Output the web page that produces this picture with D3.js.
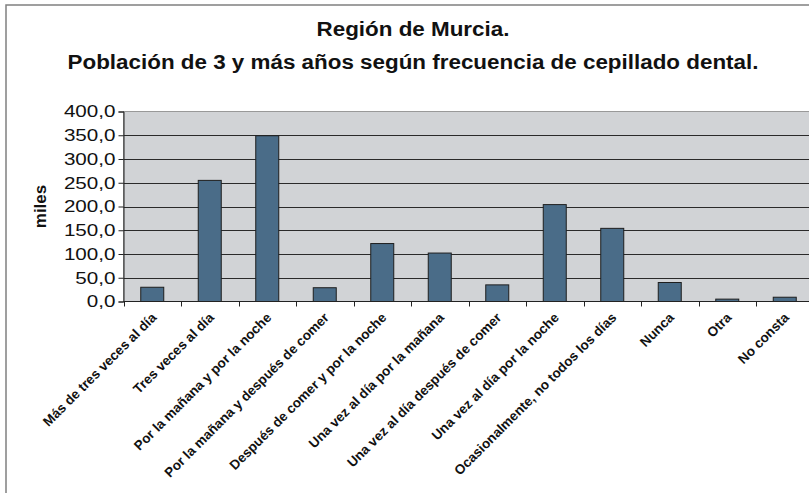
<!DOCTYPE html>
<html>
<head>
<meta charset="utf-8">
<script src="https://cdn.jsdelivr.net/npm/d3@7"></script>
<style>
  html, body { margin: 0; padding: 0; background: #fff; }
  svg { display: block; }
  text { font-family: "Liberation Sans", Arial, sans-serif; }
</style>
</head>
<body>
<svg id="chart" width="809" height="493"></svg>
<script>
const titleLines = ["Región de Murcia.", "Población de 3 y más años según frecuencia de cepillado dental."];
const yLabel = "miles";
const categories = [
  "Más de tres veces al día",
  "Tres veces al día",
  "Por la mañana y por la noche",
  "Por la mañana y después de comer",
  "Después de comer y por la noche",
  "Una vez al día por la mañana",
  "Una vez al día después de comer",
  "Una vez al día por la noche",
  "Ocasionalmente, no todos los días",
  "Nunca",
  "Otra",
  "No consta"
];
const values = [30, 255, 349, 29, 122, 102, 35, 204, 154, 40, 5, 9];
const yTicks = [0, 50, 100, 150, 200, 250, 300, 350, 400];

const svg = d3.select("#chart");
const pLeft = 123.5, pRight = 813.5, pTop = 111.5, pBottom = 301.5;

// stretch text horizontally (reference glyphs are wider than tall)
function stretch(sel, factor) {
  sel.each(function () {
    const w = this.getComputedTextLength();
    d3.select(this).attr("textLength", w * factor).attr("lengthAdjust", "spacingAndGlyphs");
  });
}

// outer frame
svg.append("rect")
  .attr("x", 6).attr("y", 5)
  .attr("width", 900).attr("height", 700)
  .attr("fill", "#fff").attr("stroke", "#808080").attr("stroke-width", 1.5);

const x = d3.scaleBand().domain(categories).range([pLeft, pRight])
  .paddingInner(0.6).paddingOuter(0.3);
const y = d3.scaleLinear().domain([0, 400]).range([pBottom, pTop]);

// plot background
svg.append("rect")
  .attr("x", pLeft).attr("y", pTop)
  .attr("width", pRight - pLeft).attr("height", pBottom - pTop)
  .attr("fill", "#d1d3d6").attr("stroke", "#999").attr("stroke-width", 1);

// gridlines
svg.append("g").selectAll("line")
  .data(yTicks.filter(d => d > 0 && d < 400))
  .join("line")
  .attr("x1", pLeft).attr("x2", pRight)
  .attr("y1", d => Math.round(y(d)) + 0.5).attr("y2", d => Math.round(y(d)) + 0.5)
  .attr("stroke", "#2a2a2a").attr("stroke-width", 1);

// bars
svg.append("g").selectAll("rect")
  .data(values)
  .join("rect")
  .attr("x", (d, i) => x(categories[i]))
  .attr("y", d => y(d))
  .attr("width", x.bandwidth())
  .attr("height", d => pBottom - y(d))
  .attr("fill", "#4a6c88")
  .attr("stroke", "#1e1e1e").attr("stroke-width", 1);

// y axis
const yAxis = d3.axisLeft(y).tickValues(yTicks).tickSize(5).tickPadding(3)
  .tickFormat(d => d3.format(".1f")(d).replace(".", ","));
const gy = svg.append("g").attr("transform", `translate(${pLeft},0)`).call(yAxis);
gy.select(".domain").attr("stroke", "#222");
gy.selectAll(".tick line").attr("stroke", "#222");
gy.selectAll(".tick text").attr("font-size", 16.5).attr("fill", "#111")
  .style("font-family", "'Liberation Sans', Arial, sans-serif")
  .call(stretch, 1.25);

// x axis baseline and ticks at category boundaries
const step = x.step();
svg.append("line").attr("x1", pLeft).attr("x2", pRight)
  .attr("y1", pBottom).attr("y2", pBottom).attr("stroke", "#222");
svg.append("g").selectAll("line")
  .data(categories)
  .join("line")
  .attr("x1", d => Math.round(x(d) - step * 0.3) + 0.5)
  .attr("x2", d => Math.round(x(d) - step * 0.3) + 0.5)
  .attr("y1", pBottom).attr("y2", pBottom + 5)
  .attr("stroke", "#222");

// x labels
svg.append("g").selectAll("text")
  .data(categories)
  .join("text")
  .attr("transform", d => `translate(${x(d) + x.bandwidth() / 2 + 5},${pBottom + 17}) rotate(-45)`)
  .attr("text-anchor", "end")
  .attr("font-size", 13.5).attr("font-weight", "bold").attr("fill", "#111")
  .text(d => d);

// y label
svg.append("text")
  .attr("transform", `translate(46,${(pTop + pBottom) / 2}) rotate(-90)`)
  .attr("text-anchor", "middle")
  .attr("font-size", 17).attr("font-weight", "bold").attr("fill", "#111")
  .text(yLabel);

// title
svg.append("g").selectAll("text")
  .data(titleLines)
  .join("text")
  .attr("x", 413).attr("y", (d, i) => 36 + i * 33)
  .attr("text-anchor", "middle")
  .attr("font-size", 20).attr("font-weight", "bold").attr("fill", "#111")
  .text(d => d)
  .call(stretch, 1.12);
</script>
</body>
</html>
